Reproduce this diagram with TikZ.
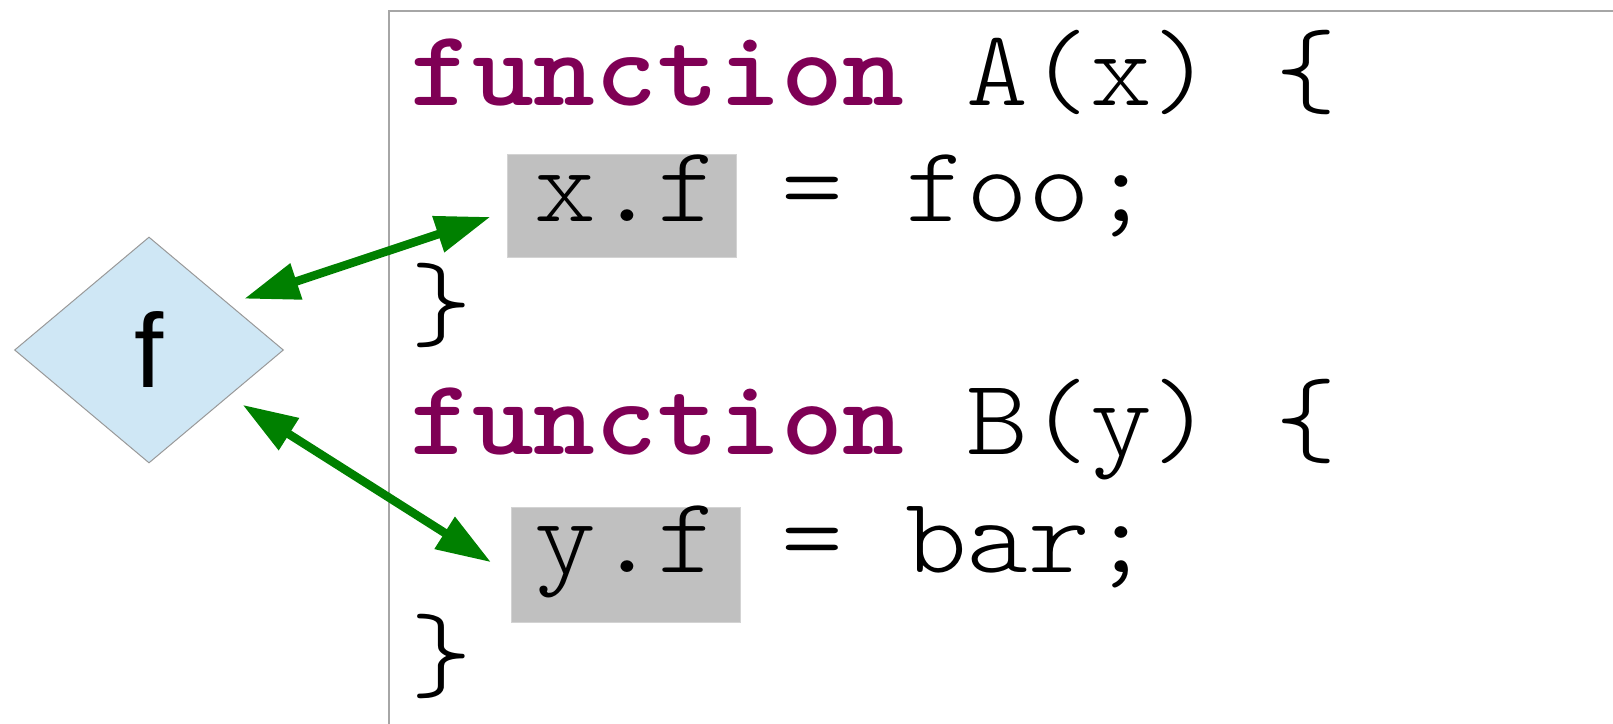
\documentclass[tikz,border=0pt]{standalone}
\usepackage{fontspec}
\usepackage{xcolor}
\usetikzlibrary{arrows.meta,shapes.geometric}
\newfontfamily\codefont{lmmonolt10-regular}[Extension=.otf,BoldFont=lmmonolt10-bold,FakeStretch=1.09]
\newfontfamily\labelfont{Liberation Sans}
\definecolor{keyword}{HTML}{7F0055}
\definecolor{linkgreen}{HTML}{008000}
\definecolor{fieldblue}{HTML}{CFE7F5}
\definecolor{hilite}{HTML}{C0C0C0}
\newcommand{\kw}[1]{\textcolor{keyword}{\bfseries #1}}

\begin{document}
\begin{tikzpicture}[
  x=1pt,y=-1pt,
  code/.style={anchor=base west,inner sep=0pt,font=\codefont\fontsize{108}{116}\selectfont},
  fieldbox/.style={diamond,draw=black!40,line width=1pt,fill=fieldblue,
    minimum width=269pt,minimum height=226pt,inner sep=0pt,
    font=\labelfont\fontsize{105}{120}\selectfont},
  hl/.style={fill=hilite,draw=hilite!70,line width=1pt,minimum width=229pt,inner sep=0pt},
  link/.style={{Triangle[length=55pt,width=36pt]}-{Triangle[length=55pt,width=36pt]},
    line width=8.5pt,draw=linkgreen,shorten <=16pt}
]
  \useasboundingbox (0,0) rectangle (1613,723);
  % code panel, cut off by the page edge
  \node[draw=black!35,line width=1.5pt,anchor=north west,
    minimum width=1400pt,minimum height=800pt] (panel) at (388,10) {};
  \node[hl,minimum height=103pt] (xf) at (621.5,205.5) {};
  \node[hl,minimum height=115pt] (yf) at (625.5,564.5) {};

  \node[code] (lineA) at (410,105) {\kw{function} A(x) \{};
  \node[code] (lineB) at (534,221) {x.f = foo;};
  \node[code] (lineC) at (410,338) {\}};
  \node[code] (lineD) at (410,454) {\kw{function} B(y) \{};
  \node[code] (lineE) at (534,572) {y.f = bar;};
  \node[code] (lineF) at (410,689) {\}};

  \node[fieldbox] (field) at (149,350) {f};

  \draw[link,shorten >=17pt] (field.30) -- (xf.183);
  \draw[link,shorten >=23pt] (field.-30) -- (yf.185);
\end{tikzpicture}
\end{document}
